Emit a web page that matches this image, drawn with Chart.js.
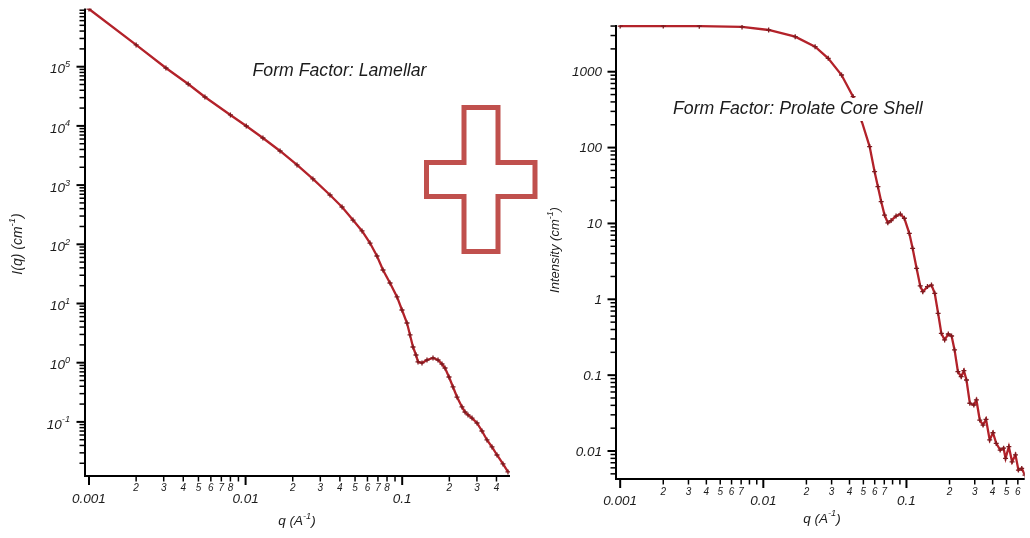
<!DOCTYPE html>
<html lang="en">
<head>
  <meta charset="UTF-8">
  <title>Form factors: Lamellar + Prolate Core Shell</title>
  <script src="https://cdn.jsdelivr.net/npm/chart.js"></script>
  <style>
    body {
      margin: 0;
      background-color: #FFFFFF;
      font-family: "Liberation Sans", Arial, sans-serif;
    }

    #wrap {
      position: relative;
      width: 1030px;
      height: 538px;
    }

    canvas, svg {
      position: absolute;
      top: 0;
    }
  </style>
</head>
<body>

<div id="wrap">
  <canvas id="lamChart" width="545" height="538" style="left:0"></canvas>
  <canvas id="pcsChart" width="485" height="538" style="left:545px"></canvas>
  <!-- signo "+" entre las dos curvas -->
  <svg width="1030" height="538" style="left:0; pointer-events:none">
    <polygon points="464,107.5 498,107.5 498,162.5 535,162.5 535,196.5 498,196.5 498,251.5 464,251.5 464,196.5 426.5,196.5 426.5,162.5 464,162.5"
             fill="none" stroke="#C0504D" stroke-width="5"/>
  </svg>
</div>

<script>
  // Lamellar form factor
  const lamQ = [0.001, 0.002, 0.0031, 0.0043, 0.0055, 0.0080, 0.0101, 0.0129, 0.0166, 0.0213,
                0.0269, 0.0346, 0.0413, 0.0485, 0.0554, 0.0623, 0.069, 0.0754, 0.0836, 0.0927,
                0.0997, 0.1073, 0.1122, 0.1172, 0.1225, 0.1262, 0.1338, 0.144, 0.1573, 0.1693,
                0.1795, 0.1877, 0.199, 0.2111, 0.2239, 0.2409, 0.2518, 0.2632, 0.2791, 0.3004,
                0.3233, 0.3479, 0.3745, 0.403, 0.4402, 0.4737];
  const lamI = [944000, 233000, 95000, 51000, 30800, 15300, 9960, 6250, 3770, 2190,
                1270, 681, 427, 257, 168, 105, 63.4, 36.8, 22.2, 12.9,
                7.77, 4.68, 2.94, 1.84, 1.35, 1.03, 0.99, 1.11, 1.20, 1.11,
                0.95, 0.814, 0.573, 0.389, 0.263, 0.179, 0.147, 0.131, 0.116, 0.0958,
                0.0702, 0.0495, 0.0377, 0.0276, 0.0195, 0.0143];

  // Prolate core shell form factor
  const pcsQ = [0.001, 0.002, 0.00357, 0.0071, 0.0109, 0.0167, 0.023, 0.0284, 0.0352, 0.0424,
                0.0484, 0.0553, 0.0599, 0.0632, 0.0666, 0.0703, 0.0741, 0.0781, 0.0846, 0.0907,
                0.0967, 0.1047, 0.1104, 0.1177, 0.1248, 0.1301, 0.1402, 0.1495, 0.1576, 0.1664,
                0.1753, 0.1848, 0.1961, 0.2067, 0.2168, 0.2289, 0.2412, 0.2519, 0.2626, 0.2772,
                0.2955, 0.3081, 0.3252, 0.3428, 0.3596, 0.3815, 0.4021, 0.4238, 0.4517, 0.477,
                0.4924, 0.5191, 0.547, 0.5775, 0.6058, 0.6388, 0.6731];
  const pcsI = [4000, 4000, 3990, 3890, 3550, 2900, 2140, 1500, 905, 469,
                231, 103, 48.1, 30.5, 19.4, 12.9, 10.2, 10.9, 12.5, 13.3,
                11.7, 7.41, 4.70, 2.56, 1.50, 1.26, 1.47, 1.54, 1.20, 0.654,
                0.356, 0.291, 0.349, 0.328, 0.215, 0.111, 0.0954, 0.1145, 0.0863, 0.0426,
                0.0404, 0.0471, 0.0256, 0.0220, 0.0262, 0.0140, 0.0174, 0.0126, 0.0103, 0.0109,
                0.0080, 0.0114, 0.0072, 0.0089, 0.0056, 0.0059, 0.0048];

  // tick labels
  const xMajorTicks = [0.001, 0.01, 0.1];
  const xMajorLabels = ['0.001', '0.01', '0.1'];
  const lamXMinorLabels = [2, 3, 4, 5, 6, 7, 8];
  const pcsXMinorLabels = [2, 3, 4, 5, 6, 7];
  const lamYExponents = [5, 4, 3, 2, 1, 0, -1];
  const pcsYTicks = [1000, 100, 10, 1, 0.1, 0.01];
  const pcsYLabels = ['1000', '100', '10', '1', '0.1', '0.01'];

  const FONT = '"Liberation Sans", Arial, sans-serif';
  const fnt = (size) => 'italic ' + size + 'px ' + FONT;

  // texto con superíndices: parts = [[texto, esSup], ...]
  function supText(ctx, parts, x, y, size, align) {
    const ws = parts.map(([t, s]) => { ctx.font = fnt(s ? size * 0.68 : size); return ctx.measureText(t).width; });
    const total = ws.reduce((a, b) => a + b, 0);
    let cx = align === 'right' ? x - total : x - total / 2;
    ctx.textAlign = 'left';
    ctx.textBaseline = 'middle';
    parts.forEach(([t, s], i) => {
      ctx.font = fnt(s ? size * 0.68 : size);
      ctx.fillText(t, cx, s ? y - size * 0.38 : y);
      cx += ws[i];
    });
    return total;
  }

  function logValues(min, max) {
    const out = [];
    for (let e = Math.floor(Math.log10(min)); e <= Math.ceil(Math.log10(max)); e++) {
      for (let m = 1; m <= 9; m++) {
        const v = m * Math.pow(10, e);
        if (v >= min * 0.999 && v <= max * 1.001) out.push({ v, m });
      }
    }
    return out;
  }

  const axisDecor = {
    id: 'axisDecor',
    afterDatasetsDraw(chart, args, o) {
      const ctx = chart.ctx, xs = chart.scales.x, ys = chart.scales.y, a = chart.chartArea;
      ctx.save();
      ctx.strokeStyle = '#000';
      ctx.fillStyle = '#1c1c1c';

      // ejes
      ctx.lineWidth = 2;
      ctx.beginPath();
      ctx.moveTo(a.left, a.top);
      ctx.lineTo(a.left, a.bottom);
      ctx.lineTo(a.right, a.bottom);
      ctx.stroke();

      // marcas del eje x
      logValues(xs.min, xs.max).forEach(({ v, m }) => {
        const px = xs.getPixelForValue(v);
        ctx.lineWidth = m === 1 ? 2 : 1.5;
        ctx.beginPath();
        ctx.moveTo(px, a.bottom);
        ctx.lineTo(px, a.bottom + (m === 1 ? 9 : 5.5));
        ctx.stroke();
        if (m !== 1 && o.xMinor.includes(m)) {
          ctx.font = fnt(10);
          ctx.textAlign = 'center';
          ctx.textBaseline = 'middle';
          ctx.fillText(String(m), px, a.bottom + o.minorDy);
        }
      });
      xMajorTicks.forEach((v, i) => {
        ctx.font = fnt(13.5);
        ctx.textAlign = 'center';
        ctx.textBaseline = 'middle';
        ctx.fillText(xMajorLabels[i], xs.getPixelForValue(v), a.bottom + o.majorDy);
      });

      // marcas del eje y
      logValues(ys.min, ys.max).forEach(({ v, m }) => {
        const py = ys.getPixelForValue(v);
        ctx.lineWidth = m === 1 ? 2 : 1.5;
        ctx.beginPath();
        ctx.moveTo(a.left, py);
        ctx.lineTo(a.left - (m === 1 ? 8.5 : 5.5), py);
        ctx.stroke();
      });
      if (o.yExp) {
        o.yExp.forEach(e => {
          const py = ys.getPixelForValue(Math.pow(10, e));
          supText(ctx, [['10', false], [String(e), true]], a.left - 15, py + 3, 13.5, 'right');
        });
      } else {
        o.yTicks.forEach((v, i) => {
          ctx.font = fnt(13.5);
          ctx.textAlign = 'right';
          ctx.textBaseline = 'middle';
          ctx.fillText(o.yLabels[i], a.left - 14, ys.getPixelForValue(v) + 1);
        });
      }

      // títulos de ejes
      supText(ctx, [['q (A', false], ['-1', true], [')', false]], o.xTitle[0], o.xTitle[1], 13.5, 'center');
      ctx.save();
      ctx.translate(o.yTitle[0], o.yTitle[1]);
      ctx.rotate(-Math.PI / 2);
      supText(ctx, [[o.yTitleText, false], ['-1', true], [')', false]], 0, 0, o.yTitleSize, 'center');
      ctx.restore();

      // rótulo del gráfico, con fondo blanco
      ctx.font = fnt(17.7);
      const w = ctx.measureText(o.label).width;
      ctx.fillStyle = '#FFFFFF';
      ctx.fillRect(o.labelPos[0] - 3, o.labelPos[1] - 11.5, w + 6, 23);
      ctx.fillStyle = '#1c1c1c';
      ctx.textAlign = 'left';
      ctx.textBaseline = 'middle';
      ctx.fillText(o.label, o.labelPos[0], o.labelPos[1]);
      ctx.restore();
    }
  };

  function makeChart(id, q, I, cfg) {
    return new Chart(document.getElementById(id), {
      type: 'line',
      data: {
        datasets: [{
          data: q.map((v, i) => ({ x: v, y: I[i] })),
          borderColor: '#B3222A',
          borderWidth: 2.3,
          pointStyle: 'cross',
          pointRadius: 2.5,
          pointBorderColor: '#7E1A1F',
          pointBorderWidth: 1.3,
          tension: 0
        }]
      },
      options: {
        responsive: false,
        animation: false,
        layout: { padding: cfg.padding },
        plugins: {
          legend: { display: false },
          tooltip: { enabled: false },
          axisDecor: cfg.decor
        },
        scales: {
          x: {
            type: 'logarithmic', min: cfg.x[0], max: cfg.x[1],
            ticks: { display: false }, grid: { display: false }, border: { display: false },
            afterFit: s => { s.height = cfg.xH; }
          },
          y: {
            type: 'logarithmic', min: cfg.y[0], max: cfg.y[1],
            ticks: { display: false }, grid: { display: false }, border: { display: false },
            afterFit: s => { s.width = cfg.yW; }
          }
        }
      },
      plugins: [axisDecor]
    });
  }

  makeChart('lamChart', lamQ, lamI, {
    padding: { top: 8.5, right: 35, left: 0, bottom: 0 },
    xH: 62, yW: 85,
    x: [0.000943, 0.488], y: [0.01219, 962000],
    decor: {
      xMinor: lamXMinorLabels, minorDy: 12, majorDy: 23,
      yExp: lamYExponents,
      xTitle: [297, 521.5], yTitle: [18, 244], yTitleText: 'I(q) (cm', yTitleSize: 14,
      label: 'Form Factor: Lamellar', labelPos: [252.5, 71]
    }
  });

  makeChart('pcsChart', pcsQ, pcsI, {
    padding: { top: 25, right: 2, left: 0, bottom: 0 },
    xH: 59, yW: 71,
    x: [0.000935, 0.670], y: [0.004276, 4130],
    decor: {
      xMinor: pcsXMinorLabels, minorDy: 13, majorDy: 22,
      yTicks: pcsYTicks, yLabels: pcsYLabels,
      xTitle: [277, 519], yTitle: [10, 250], yTitleText: 'Intensity (cm', yTitleSize: 13,
      label: 'Form Factor: Prolate Core Shell', labelPos: [128, 109.5]
    }
  });
</script>

</body>
</html>
